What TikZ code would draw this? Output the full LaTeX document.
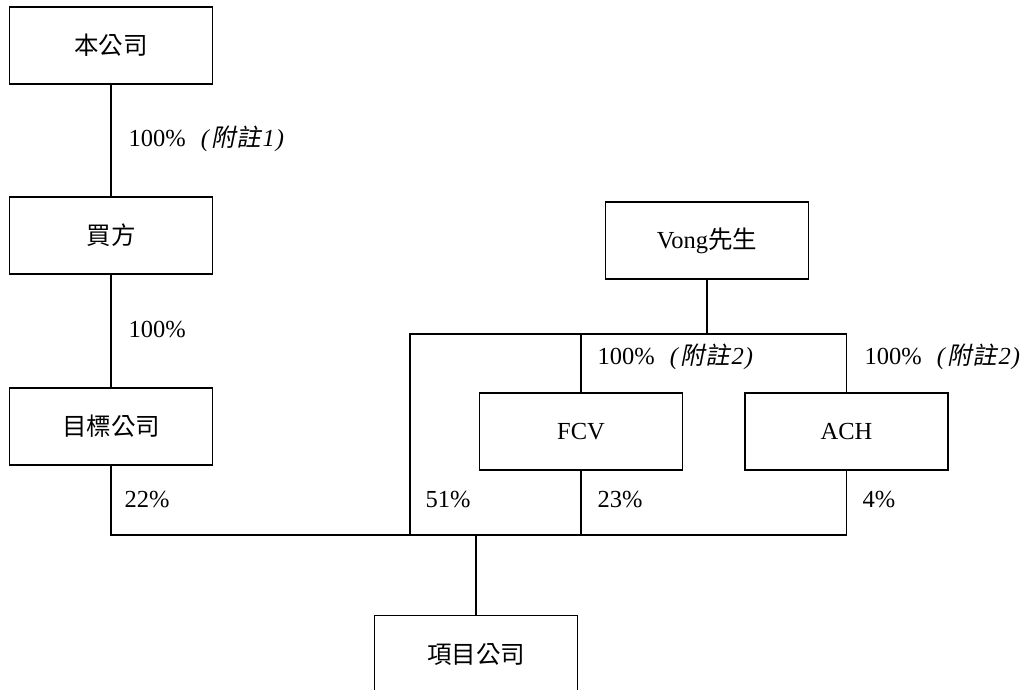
\documentclass[tikz,border=0pt]{standalone}
\usepackage{fontspec}
\setmainfont{Liberation Serif}
\newfontfamily\cjk{Noto Sans CJK TC}
\newfontfamily\cjkit{Noto Sans CJK TC}[FakeSlant=0.2]
\usetikzlibrary{positioning}

\newcommand{\note}[1]{\hspace{15pt}\textit{(}\kern1.5pt{\cjkit 附註}\kern2pt\textit{#1\kern1pt)}}

\begin{document}
\begin{tikzpicture}[x=1pt, y=-1pt, line width=1.3pt,
    entity/.style={draw, minimum width=203pt, minimum height=77pt, inner sep=0pt, font=\fontsize{24.5}{29}\selectfont},
    pct/.style={anchor=west, inner sep=0pt, font=\fontsize{24.5}{29}\selectfont}]
    \useasboundingbox (0,0) rectangle (1025,690);
    \clip (0,0) rectangle (1025,690);

    % Entities
    \node[entity] (company) at (111,45.5) {\cjk 本公司};
    \node[entity] (buyer) at (111,235.5) {\cjk 買方};
    \node[entity] (target) at (111,426.5) {\cjk 目標公司};
    \node[entity] (vong) at (707,240.5) {Vong{\cjk 先生}};
    \node[entity] (fcv) at (581,431.5) {FCV};
    \node[entity] (ach) at (846.5,431.5) {ACH};
    \node[entity, anchor=north] (project) at (476,615) {\cjk 項目公司};

    % Buses
    \coordinate (lowbus) at (476,535);
    \coordinate (upbus) at (707,334);
    \coordinate (vongleft) at (410,334);

    % Connectors
    \draw (company) -- (buyer);
    \draw (buyer) -- (target);
    \draw (target.south) -- (target.south |- lowbus) -- (ach.south |- lowbus) -- (ach.south);
    \draw (fcv.south) -- (fcv.south |- lowbus);
    \draw (lowbus) -- (project.north);
    \draw (vong.south) -- (upbus);
    \draw (vongleft |- lowbus) -- (vongleft) -- (ach.north |- upbus) -- (ach.north);
    \draw (fcv.north) -- (fcv.north |- upbus);

    % Shares
    \node[pct] (share1) at (128,139) {100\%\note{1}};
    \node[pct] (share2) at (128,330) {100\%};
    \node[pct] (share3) at (124,500) {22\%};
    \node[pct] (share4) at (425,500) {51\%};
    \node[pct] (share5) at (597,500) {23\%};
    \node[pct] (share6) at (862,500) {4\%};
    \node[pct] (share7) at (597,357) {100\%\note{2}};
    \node[pct] (share8) at (864,357) {100\%\note{2}};
\end{tikzpicture}
\end{document}
